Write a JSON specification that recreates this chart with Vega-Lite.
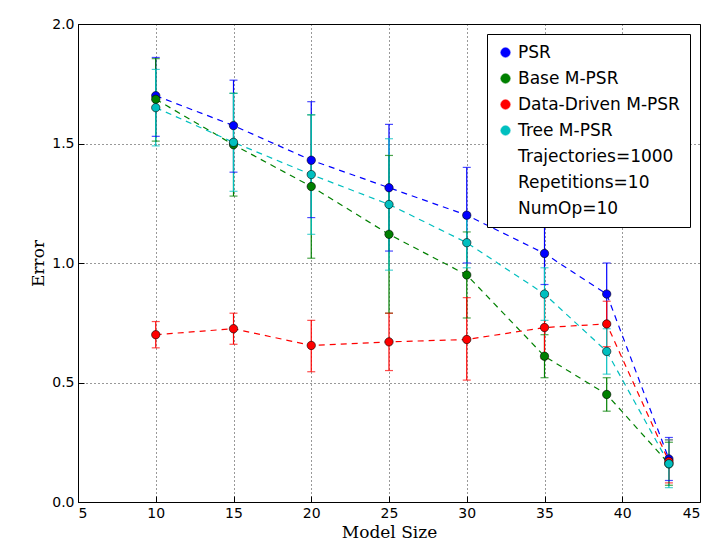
{
  "$schema": "https://vega.github.io/schema/vega-lite/v6.json",
  "width": 622,
  "height": 478,
  "autosize": "none",
  "padding": {"left": 78, "top": 24, "right": 7, "bottom": 45},
  "background": "white",
  "title": {"text": "Colored Double Loops", "font": "DejaVu Serif", "fontSize": 17, "fontWeight": "normal", "offset": 4, "baseline": "bottom"},
  "data": {
    "values": [
      {"s": "PSR", "x": 10, "y": 1.70, "lo": 1.53, "hi": 1.86},
      {"s": "PSR", "x": 15, "y": 1.575, "lo": 1.38, "hi": 1.765},
      {"s": "PSR", "x": 20, "y": 1.43, "lo": 1.19, "hi": 1.675},
      {"s": "PSR", "x": 25, "y": 1.315, "lo": 1.05, "hi": 1.58},
      {"s": "PSR", "x": 30, "y": 1.2, "lo": 1.0, "hi": 1.4},
      {"s": "PSR", "x": 35, "y": 1.04, "lo": 0.91, "hi": 1.17},
      {"s": "PSR", "x": 39, "y": 0.87, "lo": 0.74, "hi": 1.0},
      {"s": "PSR", "x": 43, "y": 0.18, "lo": 0.09, "hi": 0.27},
      {"s": "Base M-PSR", "x": 10, "y": 1.685, "lo": 1.51, "hi": 1.855},
      {"s": "Base M-PSR", "x": 15, "y": 1.495, "lo": 1.28, "hi": 1.71},
      {"s": "Base M-PSR", "x": 20, "y": 1.32, "lo": 1.02, "hi": 1.62},
      {"s": "Base M-PSR", "x": 25, "y": 1.12, "lo": 0.79, "hi": 1.45},
      {"s": "Base M-PSR", "x": 30, "y": 0.95, "lo": 0.77, "hi": 1.13},
      {"s": "Base M-PSR", "x": 35, "y": 0.61, "lo": 0.52, "hi": 0.70},
      {"s": "Base M-PSR", "x": 39, "y": 0.45, "lo": 0.38, "hi": 0.52},
      {"s": "Base M-PSR", "x": 43, "y": 0.16, "lo": 0.07, "hi": 0.25},
      {"s": "Data-Driven M-PSR", "x": 10, "y": 0.70, "lo": 0.645, "hi": 0.755},
      {"s": "Data-Driven M-PSR", "x": 15, "y": 0.725, "lo": 0.66, "hi": 0.79},
      {"s": "Data-Driven M-PSR", "x": 20, "y": 0.655, "lo": 0.545, "hi": 0.76},
      {"s": "Data-Driven M-PSR", "x": 25, "y": 0.67, "lo": 0.55, "hi": 0.79},
      {"s": "Data-Driven M-PSR", "x": 30, "y": 0.68, "lo": 0.51, "hi": 0.855},
      {"s": "Data-Driven M-PSR", "x": 35, "y": 0.73, "lo": 0.60, "hi": 0.86},
      {"s": "Data-Driven M-PSR", "x": 39, "y": 0.745, "lo": 0.65, "hi": 0.84},
      {"s": "Data-Driven M-PSR", "x": 43, "y": 0.17, "lo": 0.08, "hi": 0.26},
      {"s": "Tree M-PSR", "x": 10, "y": 1.65, "lo": 1.49, "hi": 1.81},
      {"s": "Tree M-PSR", "x": 15, "y": 1.505, "lo": 1.30, "hi": 1.71},
      {"s": "Tree M-PSR", "x": 20, "y": 1.37, "lo": 1.12, "hi": 1.62},
      {"s": "Tree M-PSR", "x": 25, "y": 1.245, "lo": 0.97, "hi": 1.52},
      {"s": "Tree M-PSR", "x": 30, "y": 1.085, "lo": 0.98, "hi": 1.19},
      {"s": "Tree M-PSR", "x": 35, "y": 0.87, "lo": 0.76, "hi": 0.98},
      {"s": "Tree M-PSR", "x": 39, "y": 0.63, "lo": 0.535, "hi": 0.725},
      {"s": "Tree M-PSR", "x": 43, "y": 0.16, "lo": 0.06, "hi": 0.26}
    ]
  },
  "encoding": {
    "x": {"field": "x", "type": "quantitative", "title": "Model Size",
      "scale": {"domain": [5, 45], "nice": false},
      "axis": {"values": [5, 10, 15, 20, 25, 30, 35, 40, 45], "format": "d"}},
    "color": {"field": "s", "type": "nominal", "title": null,
      "scale": {
        "domain": ["PSR", "Base M-PSR", "Data-Driven M-PSR", "Tree M-PSR", "Trajectories=1000", "Repetitions=10", "NumOp=10"],
        "range": ["#0000ff", "#008000", "#ff0000", "#00bfbf", "transparent", "transparent", "transparent"]
      },
      "legend": {
        "orient": "top-right", "offset": 10, "symbolType": "circle", "symbolSize": 90,
        "symbolStrokeColor": "black", "symbolStrokeWidth": 0.6, "symbolOpacity": 1,
        "labelFontSize": 17, "labelFont": "DejaVu Sans", "labelLimit": 400, "rowPadding": 8,
        "fillColor": "white", "strokeColor": "black", "padding": 10
      }
    }
  },
  "layer": [
    {"mark": {"type": "line", "strokeDash": [6, 5], "strokeWidth": 1.2},
      "encoding": {"y": {"field": "y", "type": "quantitative"}}},
    {"mark": {"type": "rule", "strokeWidth": 1.2},
      "encoding": {"y": {"field": "lo", "type": "quantitative"}, "y2": {"field": "hi"}}},
    {"mark": {"type": "tick", "orient": "horizontal", "size": 8, "thickness": 1.2},
      "encoding": {"y": {"field": "lo", "type": "quantitative"}}},
    {"mark": {"type": "tick", "orient": "horizontal", "size": 8, "thickness": 1.2},
      "encoding": {"y": {"field": "hi", "type": "quantitative"}}},
    {"mark": {"type": "point", "shape": "circle", "filled": true, "size": 70, "opacity": 1, "stroke": "black", "strokeWidth": 0.6},
      "encoding": {"y": {"field": "y", "type": "quantitative", "title": "Error",
        "scale": {"domain": [0, 2], "nice": false},
        "axis": {"values": [0, 0.5, 1, 1.5, 2], "format": ".1f"}}}}
  ],
  "config": {
    "view": {"stroke": "black", "strokeWidth": 1},
    "axis": {
      "grid": true, "gridColor": "black", "gridDash": [1, 3], "gridOpacity": 0.8,
      "domain": false, "tickColor": "black", "tickSize": -6, "tickOffset": 0,
      "labelFontSize": 14, "labelFont": "DejaVu Sans", "labelColor": "black", "labelPadding": 10,
      "titleFont": "DejaVu Serif", "titleFontSize": 17, "titleFontWeight": "normal", "titleColor": "black"
    }
  }
}
